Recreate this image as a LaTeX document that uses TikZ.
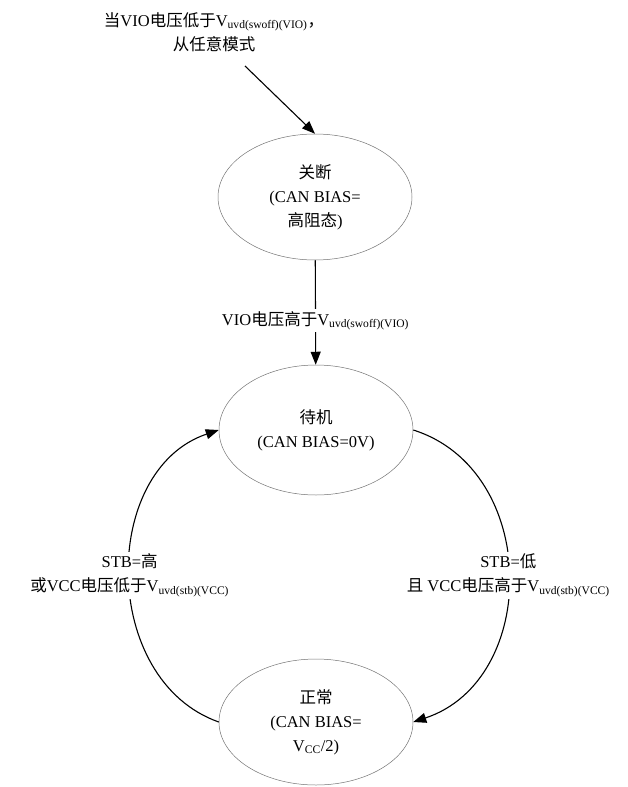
\documentclass[tikz,border=0pt]{standalone}
\usepackage{fontspec}
\setmainfont{Liberation Serif}
\newfontfamily\cjkfont{Noto Sans CJK SC}
\usepackage{tikz}
\usetikzlibrary{shapes.geometric}
\usetikzlibrary{arrows.meta}
\newcommand{\zh}[1]{{\cjkfont #1}}
\newcommand{\vsub}[1]{V\textsubscript{#1}}
\tikzset{
    statenode/.style = {ellipse, draw=black!55, line width=0.5pt, align=center, minimum width=194pt, minimum height=126pt, inner sep=0pt},
    cond/.style = {fill=white, align=center, inner sep=2pt},
}
\begin{document}
\begin{tikzpicture}[
	x=1pt, y=-1pt,
	font=\fontsize{16.5}{24}\selectfont
]
\tikzset{
    edgea/.style = {-{Triangle[length=13pt,width=10pt]}, line width=1.1pt}
}
\useasboundingbox (0,0) rectangle (628,787);
\node[cond] at (214,32) (note) {\zh{当}VIO\zh{电压低于}\vsub{uvd(swoff)(VIO)}\zh{，}\\\zh{从任意模式}};
\coordinate (start) at (245,66);
\node[statenode] at (315,197) (off) {\zh{关断}\\(CAN BIAS=\\\zh{高阻态})};
\node[statenode, minimum height=130pt] at (316,430) (stby) {\zh{待机}\\(CAN BIAS=0V)};
\node[statenode] at (316,722) (norm) {\zh{正常}\\(CAN BIAS=\\V\textsubscript{CC}/2)};
%
\draw[edgea] (start) -- (off.north);
\draw[edgea] (off) -- node[cond, pos=0.58] {VIO\zh{电压高于}\vsub{uvd(swoff)(VIO)}} (stby);
%
\draw[edgea] (norm.west) .. controls (100,680) and (100,470) .. (stby.west)
    node[cond, pos=0.5] {STB=\zh{高}\\\zh{或}VCC\zh{电压低于}\vsub{uvd(stb)(VCC)}};
\draw[edgea] (stby.east) .. controls (540,470) and (540,680) .. (norm.east)
    node[cond, pos=0.5] {STB=\zh{低}\\\zh{且} VCC\zh{电压高于}\vsub{uvd(stb)(VCC)}};
\end{tikzpicture}
\end{document}
